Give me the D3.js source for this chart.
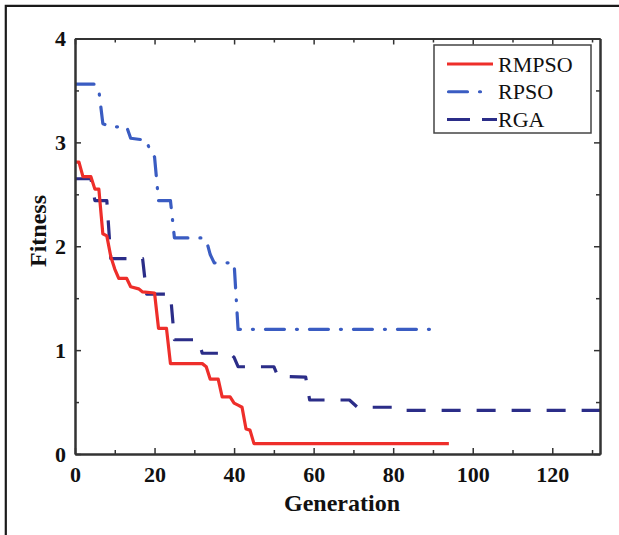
<!DOCTYPE html>
<html>
<head>
<meta charset="utf-8">
<script src="https://cdn.jsdelivr.net/npm/d3@7"></script>
<style>
	body { margin: 0; background: #fff; }
	svg { display: block; }
</style>
</head>
<body>
<svg id="plot" width="619" height="535"></svg>
<script>

// values (generation, fitness) at each corner of the curves
const RMPSO_GEN = [0, 1, 2, 4, 5, 6, 7, 8, 9, 10, 11, 13, 14, 16, 17, 20, 21, 23, 24, 32, 33, 34, 36, 37, 39, 40, 41, 42, 43, 44, 45, 94];
const RMPSO_FIT = [2.81, 2.81, 2.67, 2.67, 2.55, 2.55, 2.12, 2.10, 1.90, 1.78, 1.69, 1.69, 1.61, 1.59, 1.56, 1.55, 1.21, 1.21, 0.87, 0.87, 0.84, 0.72, 0.72, 0.55, 0.55, 0.49, 0.47, 0.45, 0.24, 0.23, 0.10, 0.10];

const RPSO_GEN = [0, 5, 6, 7, 9, 13, 14, 18, 19, 20, 21, 24, 25, 32, 33, 34, 35, 40, 41, 90];
const RPSO_FIT = [3.56, 3.56, 3.50, 3.18, 3.15, 3.15, 3.04, 3.02, 2.90, 2.86, 2.44, 2.44, 2.08, 2.08, 2.06, 1.92, 1.84, 1.84, 1.20, 1.20];

const RGA_GEN = [0, 4, 5, 8, 9, 17, 18, 24, 25, 31, 32, 39, 40, 41, 50, 51, 58, 59, 69, 71, 81, 82, 132];
const RGA_FIT = [2.65, 2.65, 2.44, 2.44, 1.88, 1.88, 1.54, 1.54, 1.10, 1.10, 0.97, 0.97, 0.93, 0.84, 0.84, 0.75, 0.74, 0.52, 0.52, 0.45, 0.45, 0.42, 0.42];

const SERIES_NAMES = ['RMPSO', 'RPSO', 'RGA'];
const X_TICKS = [0, 20, 40, 60, 80, 100, 120];
const X_MINOR = [10, 30, 50, 70, 90, 110, 130];
const Y_TICKS = [0, 1, 2, 3, 4];
const Y_MINOR = [0.5, 1.5, 2.5, 3.5];

const STYLES = {
	'RMPSO': { color: '#ee2e2a', dash: null, cap: 'butt' },
	'RPSO':  { color: '#3a5cc2', dash: '19,12,1,12', cap: 'round' },
	'RGA':   { color: '#2b2d88', dash: '19,16', cap: 'butt' }
};

const box = { left: 75, right: 600, top: 38.5, bottom: 454 };
const FONT = '"Liberation Serif", "Times New Roman", serif';

function zipSeries(gens, fits) {
	return gens.map((g, i) => ({ x: g, y: fits[i] }));
}

const data = [
	{ name: 'RMPSO', values: zipSeries(RMPSO_GEN, RMPSO_FIT) },
	{ name: 'RPSO', values: zipSeries(RPSO_GEN, RPSO_FIT) },
	{ name: 'RGA', values: zipSeries(RGA_GEN, RGA_FIT) }
];

const svg = d3.select('#plot');

// outer frame of the figure (open at the bottom)
svg.append('path')
	.attr('d', 'M5.8,540 L5.8,5.8 L619,5.8')
	.style('fill', 'none')
	.style('stroke', '#1a1a1a')
	.style('stroke-width', 2.2);

const x = d3.scaleLinear().domain([0, 132]).range([box.left, box.right]);
const y = d3.scaleLinear().domain([0, 4]).range([box.bottom, box.top]);

// clip for the curves
svg.append('clipPath').attr('id', 'clip')
	.append('rect')
	.attr('x', box.left).attr('y', box.top)
	.attr('width', box.right - box.left).attr('height', box.bottom - box.top);

const line = d3.line().x(d => x(d.x)).y(d => y(d.y));

// draw the curves (RGA underneath, red on top)
svg.append('g').attr('clip-path', 'url(#clip)')
	.selectAll('path')
	.data(data.slice().reverse())
	.enter().append('path')
	.attr('d', d => line(d.values))
	.style('fill', 'none')
	.style('stroke', d => STYLES[d.name].color)
	.style('stroke-width', 3.2)
	.style('stroke-linejoin', 'round')
	.style('stroke-linecap', d => STYLES[d.name].cap)
	.style('stroke-dasharray', d => STYLES[d.name].dash);

// axes, ticks pointing inwards on all four sides
function styleAxis(g) {
	g.selectAll('.domain').style('stroke', '#333').style('stroke-width', 2);
	g.selectAll('.tick line').style('stroke', '#333').style('stroke-width', 1.5);
	g.selectAll('text')
		.style('font-family', FONT)
		.style('font-weight', 'bold')
		.style('font-size', '22px')
		.style('fill', '#111');
}

const xAxis = svg.append('g')
	.attr('transform', `translate(0,${box.bottom})`)
	.call(d3.axisBottom(x).tickValues(X_TICKS).tickSizeInner(-6).tickSizeOuter(0).tickPadding(12).tickFormat(d3.format('d')));
xAxis.selectAll('text').attr('y', 12).attr('dy', '0.71em');
styleAxis(xAxis);

svg.append('g')
	.attr('transform', `translate(0,${box.bottom})`)
	.call(d3.axisBottom(x).tickValues(X_MINOR).tickSizeInner(-4).tickSizeOuter(0).tickFormat(''))
	.call(styleAxis);

const xTop = svg.append('g')
	.attr('transform', `translate(0,${box.top})`)
	.call(d3.axisTop(x).tickValues(X_TICKS).tickSizeInner(-6).tickSizeOuter(0).tickFormat(''))
	.call(styleAxis);
svg.append('g')
	.attr('transform', `translate(0,${box.top})`)
	.call(d3.axisTop(x).tickValues(X_MINOR).tickSizeInner(-4).tickSizeOuter(0).tickFormat(''))
	.call(styleAxis);

const yAxis = svg.append('g')
	.attr('transform', `translate(${box.left},0)`)
	.call(d3.axisLeft(y).tickValues(Y_TICKS).tickSizeInner(-6).tickSizeOuter(0).tickPadding(9).tickFormat(d3.format('d')));
yAxis.selectAll('text').attr('x', -9).attr('dy', '0.34em');
styleAxis(yAxis);

svg.append('g')
	.attr('transform', `translate(${box.left},0)`)
	.call(d3.axisLeft(y).tickValues(Y_MINOR).tickSizeInner(-4).tickSizeOuter(0).tickFormat(''))
	.call(styleAxis);

svg.append('g')
	.attr('transform', `translate(${box.right},0)`)
	.call(d3.axisRight(y).tickValues(Y_TICKS).tickSizeInner(-6).tickSizeOuter(0).tickFormat(''))
	.call(styleAxis);
svg.append('g')
	.attr('transform', `translate(${box.right},0)`)
	.call(d3.axisRight(y).tickValues(Y_MINOR).tickSizeInner(-4).tickSizeOuter(0).tickFormat(''))
	.call(styleAxis);

// axis titles
svg.append('text')
	.attr('x', 342)
	.attr('y', 511)
	.attr('text-anchor', 'middle')
	.style('font-family', FONT)
	.style('font-weight', 'bold')
	.style('font-size', '24px')
	.style('fill', '#111')
	.text('Generation');

svg.append('text')
	.attr('transform', 'translate(46,231) rotate(-90)')
	.attr('text-anchor', 'middle')
	.style('font-family', FONT)
	.style('font-weight', 'bold')
	.style('font-size', '24px')
	.style('fill', '#111')
	.text('Fitness');

// legend
const legend = svg.append('g');
legend.append('rect')
	.attr('x', 434).attr('y', 45)
	.attr('width', 157).attr('height', 88)
	.style('fill', '#fff')
	.style('stroke', '#444')
	.style('stroke-width', 1.5);

const legendEnds = { 'RMPSO': 493, 'RPSO': 482, 'RGA': 497 };
const legendDash = { 'RMPSO': null, 'RPSO': '19,12,1,12', 'RGA': '23,12' };
const rowY = d3.scalePoint().domain(SERIES_NAMES).range([64, 119.5]);

const items = legend.selectAll('g.item')
	.data(SERIES_NAMES)
	.enter().append('g')
	.attr('class', 'item');

items.append('line')
	.attr('x1', d => STYLES[d].cap === 'round' ? 448.5 : 447)
	.attr('x2', d => legendEnds[d])
	.attr('y1', d => rowY(d))
	.attr('y2', d => rowY(d))
	.style('stroke', d => STYLES[d].color)
	.style('stroke-width', 3.2)
	.style('stroke-linecap', d => STYLES[d].cap)
	.style('stroke-dasharray', d => legendDash[d]);

items.append('text')
	.attr('x', 498)
	.attr('y', d => rowY(d))
	.attr('dy', '0.35em')
	.style('font-family', FONT)
	.style('font-size', '22px')
	.style('fill', '#111')
	.text(d => d);

</script>
</body>
</html>
